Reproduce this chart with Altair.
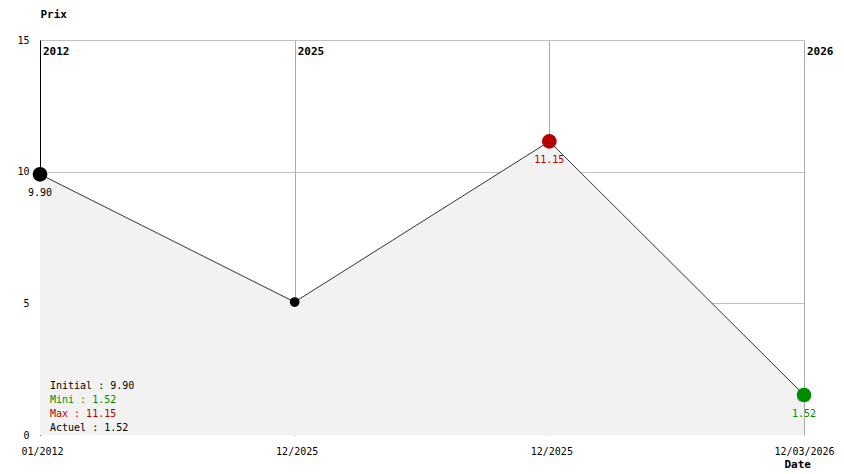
import json
import altair as alt
import pandas as pd

# ---- data ----
dates = ["01/2012", "12/2025", "12/2025", "12/03/2026"]
prices = [9.90, 5.05, 11.15, 1.52]
year_pos = [0, 1, 3]
years = ["2012", "2025", "2026"]
legend_lines = ["Initial : 9.90", "Mini : 1.52", "Max : 11.15", "Actuel : 1.52"]
legend_roles = ["initial", "min", "max", "other"]
y_ticks = [0, 5, 10, 15]

FONT = "DejaVu Sans Mono"
RED = "#b40000"
GREEN = "#008c00"

n = len(prices)
roles = []
for i, p in enumerate(prices):
    if p == max(prices):
        roles.append("max")
    elif p == min(prices):
        roles.append("min")
    elif i == 0:
        roles.append("initial")
    else:
        roles.append("other")

df = pd.DataFrame({
    "idx": list(range(n)),
    "price": prices,
    "role": roles,
    "label": [f"{p:.2f}" for p in prices],
})
years_df = pd.DataFrame({"idx": year_pos, "year": years})
legend_df = pd.DataFrame({"row": list(range(len(legend_lines))), "text": legend_lines, "role": legend_roles})

role_color = alt.Scale(domain=["initial", "other", "max", "min"], range=["black", "black", RED, GREEN])

x_scale = alt.Scale(domain=[0, n - 1], nice=False, zero=False)
y_scale = alt.Scale(domain=[0, 15], nice=False)

x_axis = alt.Axis(
    values=list(range(n)),
    labelExpr=f"{json.dumps(dates)}[datum.value]",
    grid=True, gridColor="#aaaaaa", domain=False, ticks=False, tickSize=0,
    labelFlush=False, labelOverlap=False, labelBound=False,
    labelPadding=11, labelFont=FONT, labelFontSize=10, labelColor="black",
    labelOffset={"condition": {"test": f"datum.value == {n - 1}", "value": 0}, "value": 2},
    title="Date", titleFont=FONT, titleFontSize=11, titleFontWeight="bold",
    titleAlign="left", titleBaseline="alphabetic", titleX=744, titleY=32, titleColor="black",
)
y_axis = alt.Axis(
    values=y_ticks, grid=True,
    gridColor={"condition": {"test": "datum.value == 0", "value": "transparent"}, "value": "#c0c0c0"},
    domain=True, domainColor="black",
    ticks=False, tickSize=0, labelPadding=11, labelFont=FONT, labelFontSize=10,
    labelColor="black", labelBaseline="middle", labelFlush=False,
    title="Prix", titleAngle=0, titleFont=FONT, titleFontSize=11, titleFontWeight="bold",
    titleAlign="left", titleBaseline="alphabetic", titleX=0, titleY=-23, titleColor="black",
)

base = alt.Chart(df).encode(
    x=alt.X("idx:Q", scale=x_scale, axis=x_axis),
    y=alt.Y("price:Q", scale=y_scale, axis=y_axis),
)

area = base.mark_area(color="#f2f2f2", opacity=1)
line = base.mark_line(color="#333333", strokeWidth=1)
points = base.mark_circle(opacity=1).encode(
    color=alt.Color("role:N", scale=role_color, legend=None),
    size=alt.condition("datum.role == 'other'", alt.value(95), alt.value(215)),
)
value_labels = base.mark_text(
    font=FONT, fontSize=10, dy=19, align="center", baseline="middle"
).encode(
    text="label:N",
    color=alt.Color("role:N", scale=role_color, legend=None),
).transform_filter("datum.role != 'other'")

year_labels = alt.Chart(years_df).mark_text(
    font=FONT, fontSize=11, fontWeight="bold", align="left", baseline="middle",
    dx=3, dy=12, color="black",
).encode(
    x=alt.X("idx:Q", scale=x_scale),
    y=alt.datum(15),
    text="year:N",
)

main = alt.layer(area, line, year_labels, points, value_labels)

legend = alt.Chart(legend_df).mark_text(
    font=FONT, fontSize=10, align="left", baseline="middle", dx=10,
).encode(
    x=alt.datum(0),
    y=alt.Y("row:O", scale=alt.Scale(range=[346, 388], padding=0), axis=None),
    text="text:N",
    color=alt.Color("role:N", scale=role_color, legend=None),
)

chart = alt.layer(main, legend).resolve_scale(y="independent").properties(
    width=764, height=395,
    autosize=alt.AutoSizeParams(type="none"),
    padding={"left": 32, "top": 32, "right": 32, "bottom": 34},
    background="white",
).configure_view(stroke=None)

chart.save("out.html", embed_options={"renderer": "svg", "actions": False})
